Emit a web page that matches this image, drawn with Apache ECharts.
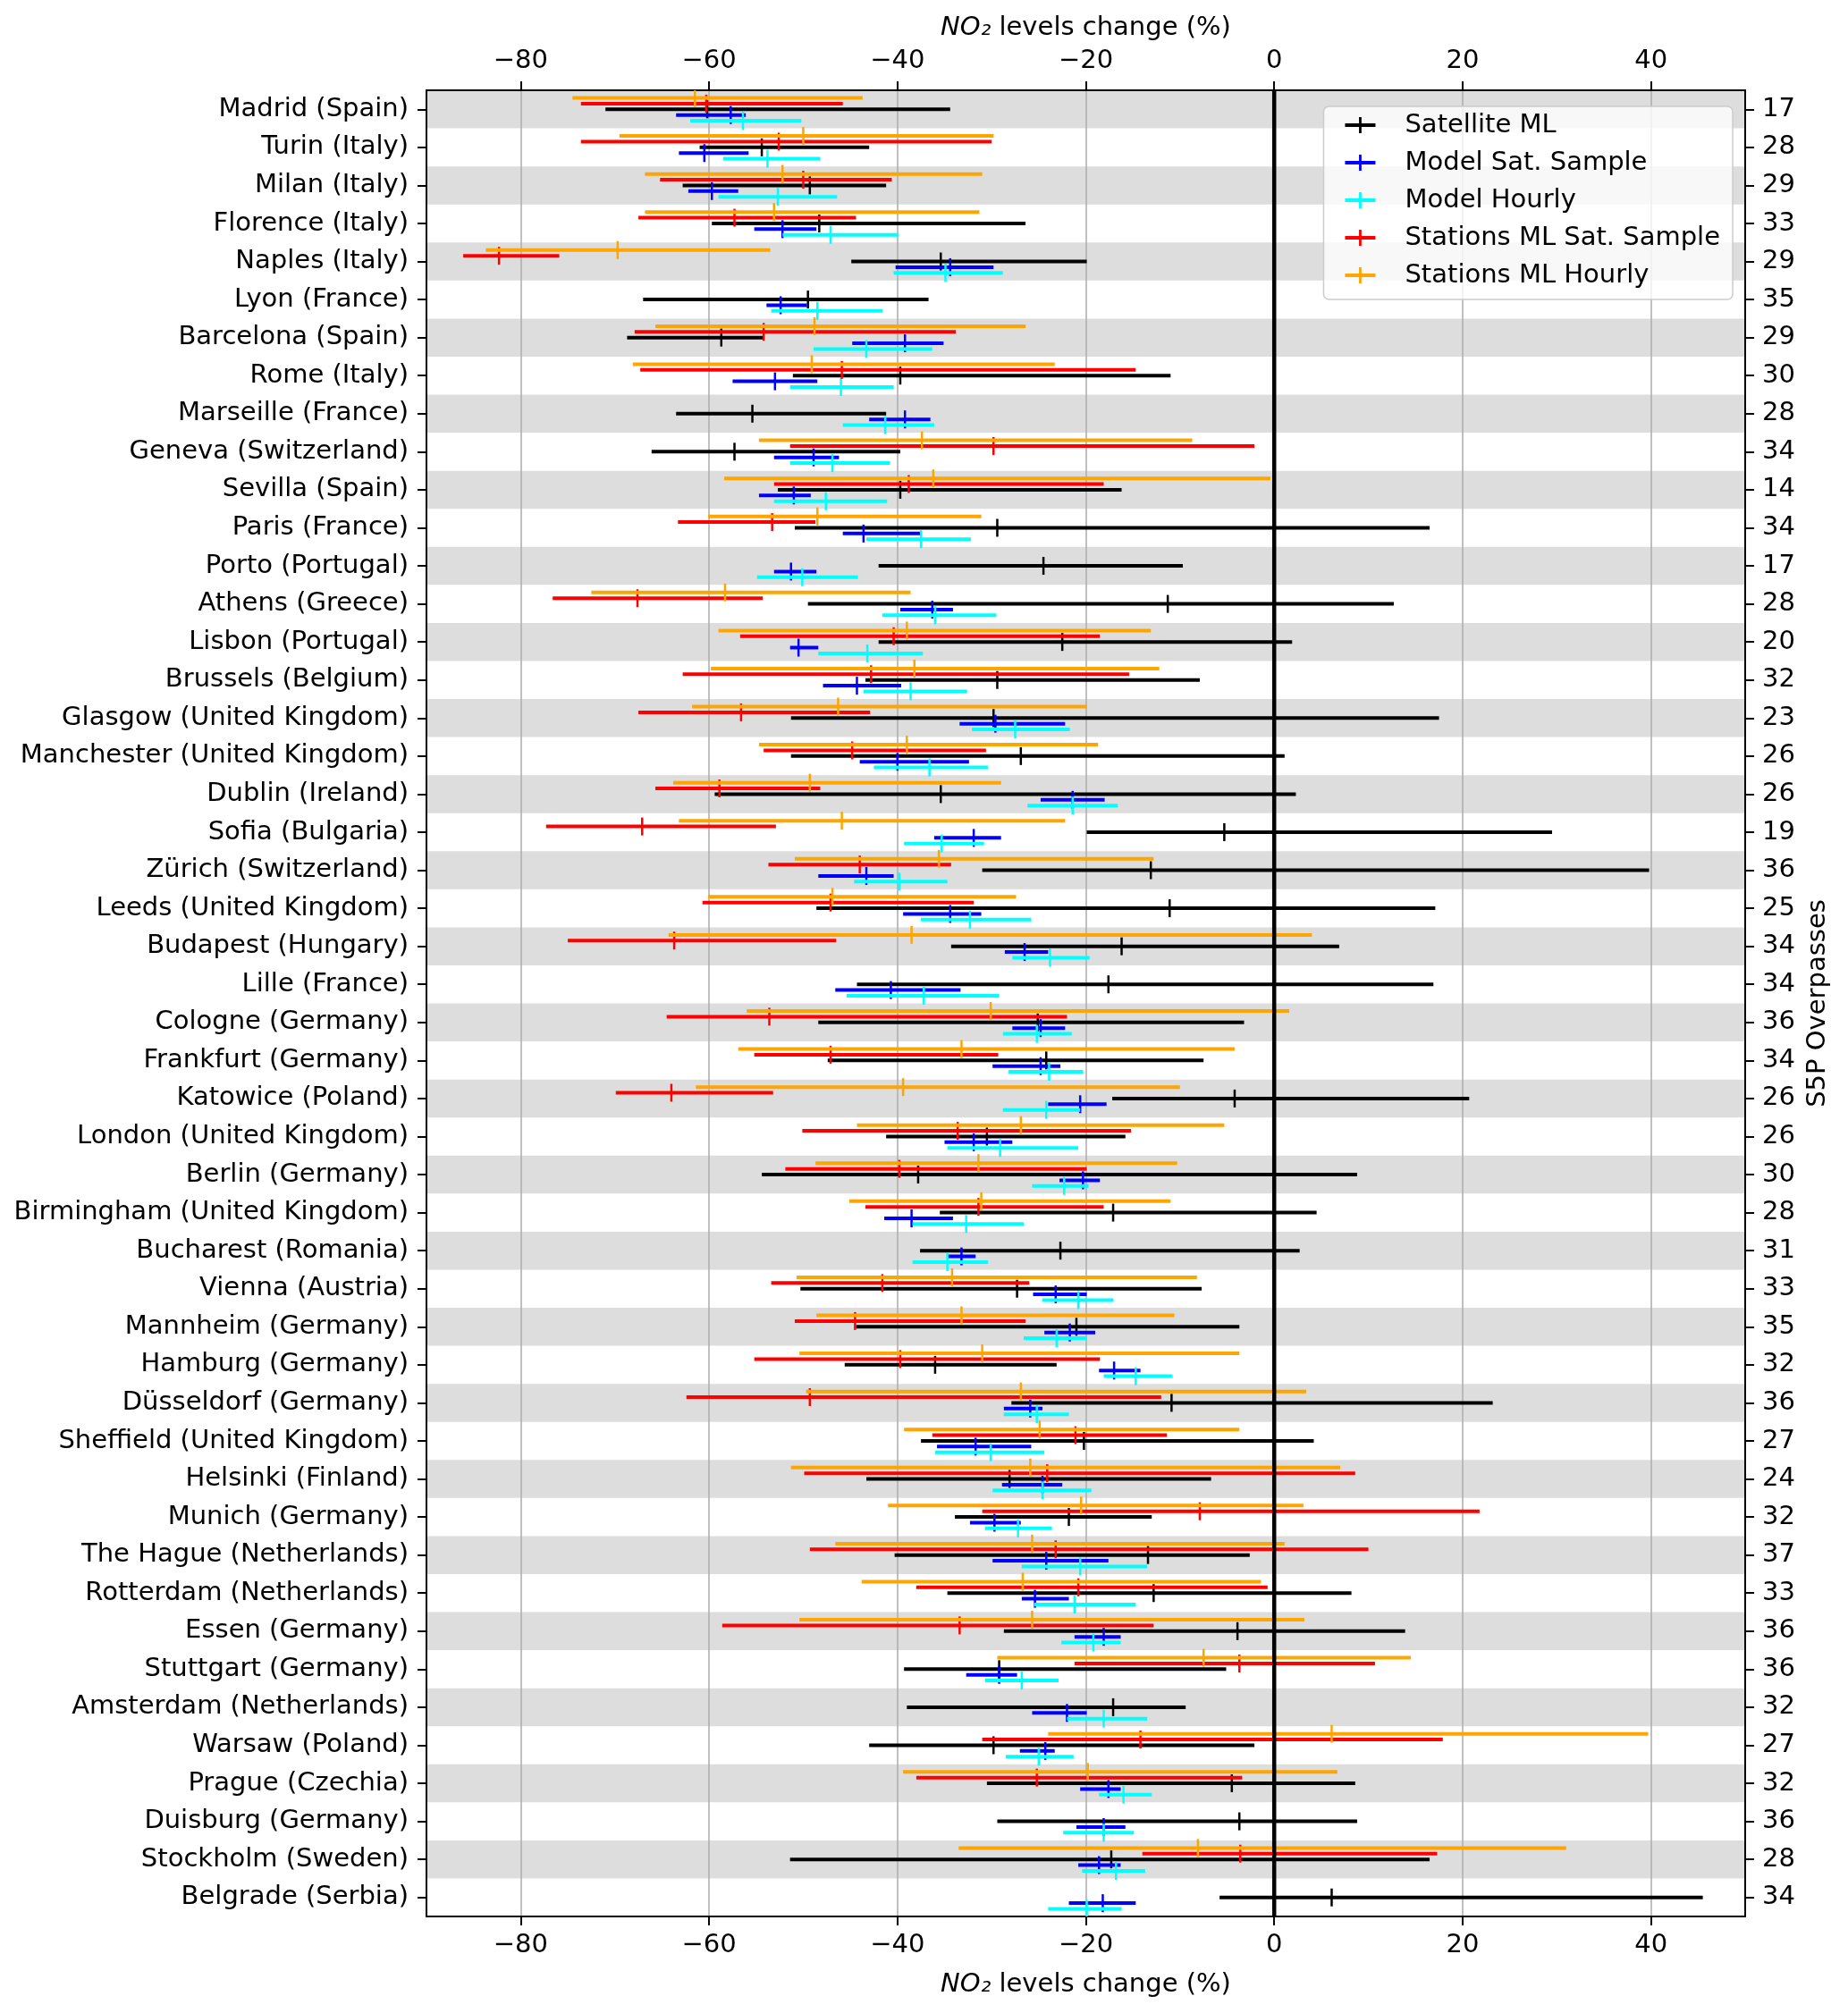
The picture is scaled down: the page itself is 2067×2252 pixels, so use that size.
<!DOCTYPE html>
<html>
<head>
<meta charset="utf-8">
<script src="https://cdn.jsdelivr.net/npm/echarts@6/dist/echarts.min.js"></script>
<style>
html,body{margin:0;padding:0;background:#fff}
#chart{width:2067px;height:2252px}
</style>
</head>
<body>
<div id="chart"></div>
<script>
const cities = ["Madrid (Spain)","Turin (Italy)","Milan (Italy)","Florence (Italy)","Naples (Italy)","Lyon (France)","Barcelona (Spain)","Rome (Italy)","Marseille (France)","Geneva (Switzerland)","Sevilla (Spain)","Paris (France)","Porto (Portugal)","Athens (Greece)","Lisbon (Portugal)","Brussels (Belgium)","Glasgow (United Kingdom)","Manchester (United Kingdom)","Dublin (Ireland)","Sofia (Bulgaria)","Zürich (Switzerland)","Leeds (United Kingdom)","Budapest (Hungary)","Lille (France)","Cologne (Germany)","Frankfurt (Germany)","Katowice (Poland)","London (United Kingdom)","Berlin (Germany)","Birmingham (United Kingdom)","Bucharest (Romania)","Vienna (Austria)","Mannheim (Germany)","Hamburg (Germany)","Düsseldorf (Germany)","Sheffield (United Kingdom)","Helsinki (Finland)","Munich (Germany)","The Hague (Netherlands)","Rotterdam (Netherlands)","Essen (Germany)","Stuttgart (Germany)","Amsterdam (Netherlands)","Warsaw (Poland)","Prague (Czechia)","Duisburg (Germany)","Stockholm (Sweden)","Belgrade (Serbia)"];

const overpasses = [17,28,29,33,29,35,29,30,28,34,14,34,17,28,20,32,23,26,26,19,36,25,34,34,36,34,26,26,30,28,31,33,35,32,36,27,24,32,37,33,36,36,32,27,32,36,28,34];

const xTicks = [-80,-60,-40,-20,0,20,40];

// Satellite ML (black)
const satCenter = [-60.2,-54.4,-49.3,-48.3,-35.4,-49.5,-58.7,-39.7,-55.4,-57.3,-39.7,-29.4,-24.5,-11.3,-22.5,-29.4,-29.8,-26.9,-35.4,-5.3,-13.1,-11.1,-16.2,-17.6,-25.1,-24.2,-4.2,-30.5,-37.8,-17.1,-22.7,-27.3,-21.0,-36.0,-10.9,-20.2,-28.1,-21.8,-13.4,-12.8,-3.9,-29.2,-17.1,-29.8,-4.5,-3.7,-17.3,6.1];
const satLow = [-71.0,-61.0,-62.8,-59.7,-44.9,-67.0,-68.7,-51.1,-63.5,-66.1,-52.7,-50.9,-42.0,-49.5,-42.0,-43.4,-51.3,-51.3,-59.4,-19.9,-31.0,-48.6,-34.3,-44.3,-48.4,-47.4,-17.2,-41.2,-54.4,-35.5,-37.6,-50.3,-44.4,-45.6,-27.9,-37.5,-43.3,-33.9,-40.3,-34.7,-28.7,-39.3,-39.0,-43.0,-30.5,-29.4,-51.4,-5.8];
const satHigh = [-34.4,-43.0,-41.2,-26.4,-19.9,-36.7,-54.2,-11.0,-41.2,-39.7,-16.2,16.5,-9.7,12.7,1.9,-7.9,17.5,1.1,2.3,29.5,39.8,17.1,6.9,16.9,-3.2,-7.5,20.7,-15.8,8.8,4.5,2.7,-7.7,-3.7,-23.1,23.2,4.2,-6.7,-13.0,-2.6,8.2,13.9,-5.1,-9.4,-2.1,8.6,8.8,16.5,45.5];

// Model Sat. Sample (blue)
const modSatCenter = [-57.7,-60.5,-59.7,-52.2,-34.4,-52.4,-39.2,-53.0,-39.2,-48.9,-51.0,-43.6,-51.3,-36.3,-50.5,-44.3,-29.6,-40.0,-21.4,-31.9,-43.3,-34.4,-26.5,-40.7,-24.8,-24.8,-20.6,-31.9,-20.3,-38.5,-33.2,-23.2,-21.7,-17.0,-25.9,-31.7,-24.6,-29.7,-24.2,-25.4,-18.1,-29.2,-22.0,-24.3,-17.6,-18.1,-18.6,-18.2];
const modSatLow = [-63.5,-63.2,-62.2,-55.2,-40.2,-53.9,-44.8,-57.5,-43.0,-53.1,-54.7,-45.8,-53.1,-39.7,-51.4,-47.9,-33.4,-44.0,-24.8,-36.1,-48.4,-39.4,-28.6,-46.6,-27.8,-29.9,-24.0,-35.0,-22.8,-41.4,-34.7,-25.6,-24.4,-18.6,-28.7,-35.8,-28.9,-32.3,-29.9,-26.8,-21.2,-32.7,-25.7,-27.0,-20.6,-21.0,-20.8,-21.8];
const modSatHigh = [-56.1,-55.8,-56.9,-48.6,-29.8,-49.6,-35.1,-48.5,-36.5,-46.2,-49.2,-37.6,-48.6,-34.1,-48.4,-39.6,-22.2,-32.4,-18.0,-29.0,-40.4,-31.1,-24.0,-33.3,-22.2,-22.7,-17.8,-27.8,-18.5,-34.1,-31.7,-19.9,-19.0,-14.2,-24.6,-25.8,-22.5,-26.9,-17.6,-21.8,-16.3,-27.3,-19.9,-23.3,-16.3,-15.8,-16.3,-14.7];

// Model Hourly (cyan)
const modHrCenter = [-56.4,-53.8,-52.7,-47.1,-34.9,-48.5,-43.3,-46.0,-41.3,-46.9,-47.6,-37.5,-50.1,-36.0,-43.2,-38.6,-27.5,-36.6,-21.4,-35.3,-39.8,-32.3,-23.8,-37.2,-25.2,-23.9,-24.2,-29.1,-22.3,-32.7,-34.7,-20.8,-23.1,-14.7,-25.2,-30.1,-24.6,-27.2,-20.6,-21.2,-19.2,-26.8,-18.1,-25.0,-16.0,-18.1,-16.8,-19.9];
const modHrLow = [-62.0,-58.5,-59.0,-52.2,-40.4,-53.4,-48.9,-51.4,-45.8,-51.4,-53.1,-43.3,-54.9,-41.6,-48.4,-43.6,-32.1,-42.5,-26.2,-39.3,-44.6,-37.5,-27.8,-45.4,-28.8,-28.2,-28.8,-34.7,-25.7,-38.4,-38.4,-24.6,-26.6,-18.1,-28.7,-36.0,-29.9,-30.7,-26.8,-25.5,-22.6,-30.7,-22.0,-28.5,-18.6,-22.4,-20.4,-24.0];
const modHrHigh = [-50.2,-48.2,-46.4,-39.9,-28.8,-41.6,-36.3,-40.4,-36.1,-40.8,-41.1,-32.2,-44.2,-29.5,-37.3,-32.6,-21.7,-30.4,-16.6,-30.8,-34.7,-25.8,-19.6,-29.2,-21.5,-20.3,-20.6,-20.8,-19.7,-26.6,-30.4,-17.1,-19.9,-10.8,-21.8,-24.4,-19.4,-23.6,-13.5,-14.7,-16.3,-22.9,-13.5,-21.3,-13.0,-14.9,-13.7,-16.2];

// Stations ML Sat. Sample (red)
const stSatCenter = [-60.3,-52.6,-50.0,-57.3,-82.3,null,-54.2,-45.9,null,-29.8,-38.8,-53.3,null,-67.6,-40.4,-42.8,-56.6,-44.8,-58.9,-67.1,-44.0,-47.1,-63.7,null,-53.6,-47.1,-64.0,-33.6,-39.8,-31.4,null,-41.6,-44.5,-39.7,-49.3,-21.1,-24.1,-7.9,-23.2,-20.8,-33.4,-3.7,null,-14.2,-25.2,null,-3.6,null];
const stSatLow = [-73.6,-73.6,-65.2,-67.5,-86.1,null,-67.9,-67.3,null,-51.4,-53.1,-63.3,null,-76.6,-56.7,-62.8,-67.5,-54.2,-65.7,-77.3,-53.7,-60.7,-75.0,null,-64.5,-55.2,-69.9,-50.1,-51.9,-43.4,null,-53.4,-50.9,-55.2,-62.4,-36.3,-49.9,-31.0,-49.3,-38.0,-58.6,-21.2,null,-31.0,-38.0,null,-14.0,null];
const stSatHigh = [-45.8,-30.0,-40.6,-44.4,-75.9,null,-33.8,-14.7,null,-2.1,-18.1,-48.7,null,-54.3,-18.5,-15.4,-42.9,-30.6,-48.2,-52.9,-34.3,-31.9,-46.5,null,-22.0,-29.3,-53.2,-15.2,-19.9,-18.1,null,-26.0,-26.4,-18.5,-12.0,-11.4,8.6,21.8,10.0,-0.7,-12.8,10.7,null,17.9,-3.4,null,17.3,null];

// Stations ML Hourly (orange)
const stHrCenter = [-61.5,-50.0,-52.2,-53.1,-69.7,null,-48.8,-49.1,null,-37.4,-36.2,-48.5,null,-58.3,-39.0,-38.2,-46.3,-39.0,-49.3,-45.9,-35.6,-46.9,-38.5,null,-30.1,-33.2,-39.4,-26.9,-31.4,-31.1,null,-34.2,-33.2,-31.0,-26.9,-24.9,-25.9,-20.5,-25.7,-26.7,-25.7,-7.5,null,6.1,-19.8,null,-8.1,null];
const stHrLow = [-74.5,-69.5,-66.8,-66.8,-83.7,null,-65.7,-68.1,null,-54.7,-58.4,-60.1,null,-72.5,-59.0,-59.8,-61.8,-54.7,-63.8,-63.2,-50.9,-60.1,-64.3,null,-56.0,-56.9,-61.4,-44.3,-48.7,-45.1,null,-50.7,-48.6,-50.4,-49.7,-39.3,-51.3,-41.0,-46.6,-43.8,-50.4,-29.4,null,-24.0,-39.4,null,-33.5,null];
const stHrHigh = [-43.7,-29.8,-31.0,-31.3,-53.5,null,-26.4,-23.3,null,-8.7,-0.4,-31.1,null,-38.6,-13.1,-12.2,-19.9,-18.7,-29.0,-22.2,-12.8,-27.4,4.0,null,1.6,-4.2,-10.0,-5.3,-10.3,-11.0,null,-8.2,-10.6,-3.7,3.4,-3.7,7.0,3.1,1.1,-1.4,3.2,14.5,null,39.7,6.7,null,31.0,null];

const FONT = 'DejaVu Sans';
const FS = 29;
const rowIdx = cities.map((c, i) => i);

function rows(center, low, high) {
  const out = [];
  center.forEach((c, i) => { if (c !== null) out.push([low[i], high[i], c, i]); });
  return out;
}

function errRender(offset, color) {
  return function (params, api) {
    const row = api.value(3);
    const band = api.size([0, 1])[1];
    const pc = api.coord([api.value(2), row]);
    const pl = api.coord([api.value(0), row]);
    const ph = api.coord([api.value(1), row]);
    const y = pc[1] + offset * band;
    return {
      type: 'group',
      children: [
        {type: 'line', shape: {x1: pl[0], y1: y, x2: ph[0], y2: y}, style: {stroke: color, lineWidth: 4}},
        {type: 'line', shape: {x1: pc[0] - 8, y1: y, x2: pc[0] + 8, y2: y}, style: {stroke: color, lineWidth: 2.5}},
        {type: 'line', shape: {x1: pc[0], y1: y - 10, x2: pc[0], y2: y + 10}, style: {stroke: color, lineWidth: 2.5}}
      ]
    };
  };
}

function bandRender(params, api) {
  const cs = params.coordSys;
  const band = api.size([0, 1])[1];
  const p = api.coord([0, api.value(1)]);
  return {type: 'rect', shape: {x: cs.x, y: p[1] - band / 2, width: cs.width, height: band}, style: {fill: '#dddddd'}};
}

function zeroRender(params, api) {
  const cs = params.coordSys;
  const p = api.coord([api.value(0), 0]);
  return {type: 'line', shape: {x1: p[0], y1: cs.y, x2: p[0], y2: cs.y + cs.height}, style: {stroke: '#000', lineWidth: 4.5}};
}

const bandRows = rowIdx.filter(i => i % 2 === 0).map(i => [0, i]);

const seriesDefs = [
  {name: 'Satellite ML', color: '#000000', offset: 0, data: rows(satCenter, satLow, satHigh)},
  {name: 'Model Sat. Sample', color: '#0000ff', offset: 0.15, data: rows(modSatCenter, modSatLow, modSatHigh)},
  {name: 'Model Hourly', color: '#00ffff', offset: 0.3, data: rows(modHrCenter, modHrLow, modHrHigh)},
  {name: 'Stations ML Sat. Sample', color: '#ff0000', offset: -0.15, data: rows(stSatCenter, stSatLow, stSatHigh)},
  {name: 'Stations ML Hourly', color: '#ffa500', offset: -0.3, data: rows(stHrCenter, stHrLow, stHrHigh)}
];

const iconPath = 'path://M0,7 L34,7 L34,11 L0,11 Z M15.6,0 L18.4,0 L18.4,18 L15.6,18 Z';

const fmt = v => (v < 0 ? '\u2212' + Math.abs(v) : String(v));

function xAxisBase(pos, gap) {
  return {
    type: 'value', min: -90, max: 50, splitNumber: 7, position: pos,
    axisLine: {show: true, onZero: false, lineStyle: {color: '#000', width: 2}},
    axisTick: {show: true, length: 10, lineStyle: {color: '#000', width: 2}, customValues: xTicks},
    axisLabel: {fontSize: FS, fontFamily: FONT, color: '#000', margin: 18, formatter: fmt, customValues: xTicks},
    nameLocation: 'middle',
    nameGap: gap,
    name: '{it|NO\u2082} levels change (%)',
    nameTextStyle: {fontSize: FS, fontFamily: FONT, color: '#000', rich: {it: {fontStyle: 'italic', fontSize: FS, fontFamily: FONT, color: '#000'}}}
  };
}

function yAxisBase(pos, labels, margin) {
  return {
    type: 'value', min: -0.5, max: cities.length - 0.5, inverse: true, position: pos,
    axisLine: {show: true, onZero: false, lineStyle: {color: '#000', width: 2}},
    axisTick: {show: true, length: 10, lineStyle: {color: '#000', width: 2}, customValues: rowIdx},
    axisLabel: {fontSize: FS, fontFamily: FONT, color: '#000', margin: margin, customValues: rowIdx,
      formatter: v => labels[Math.round(v)]},
    splitLine: {show: false}
  };
}

const option = {
  animation: false,
  backgroundColor: '#ffffff',
  grid: {left: 477, right: 115, top: 101, bottom: 108, containLabel: false},
  legend: {
    right: 129, top: 119, orient: 'vertical',
    backgroundColor: 'rgba(255,255,255,0.8)', borderColor: '#cccccc', borderWidth: 1.5, borderRadius: 6,
    padding: [6, 14, 12, 24], itemGap: 12, itemWidth: 34, itemHeight: 18,
    textStyle: {fontSize: FS, fontFamily: FONT, color: '#000', lineHeight: 30, padding: [0, 0, 0, 28]},
    data: seriesDefs.map(s => ({name: s.name, icon: iconPath, itemStyle: {color: s.color}}))
  },
  xAxis: [
    Object.assign(xAxisBase('bottom', 62), {splitLine: {show: true, lineStyle: {color: '#b0b0b0', width: 1.6}}}),
    Object.assign(xAxisBase('top', 55), {splitLine: {show: false}})
  ],
  yAxis: [
    yAxisBase('left', cities, 20),
    Object.assign(yAxisBase('right', overpasses.map(String), 19), {
      name: 'S5P Overpasses', nameLocation: 'middle', nameGap: 65, nameRotate: 90,
      nameTextStyle: {fontSize: FS, fontFamily: FONT, color: '#000'}
    })
  ],
  series: [
    {
      type: 'custom', name: 'bands', z: -10, silent: true,
      xAxisIndex: 0, yAxisIndex: 0,
      encode: {x: 0, y: 1},
      renderItem: bandRender,
      data: bandRows
    },
    {
      type: 'custom', name: 'zero', z: 3, silent: true,
      xAxisIndex: 0, yAxisIndex: 0,
      encode: {x: 0, y: 1},
      renderItem: zeroRender,
      data: [[0, 0]]
    }
  ].concat(seriesDefs.map(s => ({
    type: 'custom', name: s.name, xAxisIndex: 0, yAxisIndex: 0,
    itemStyle: {color: s.color},
    dimensions: ['low', 'high', 'center', 'row'],
    encode: {x: [0, 1, 2], y: 3},
    renderItem: errRender(s.offset, s.color),
    clip: true,
    data: s.data
  })))
};

const chart = echarts.init(document.getElementById('chart'), null, {renderer: 'canvas'});
chart.setOption(option);
</script>
</body>
</html>
